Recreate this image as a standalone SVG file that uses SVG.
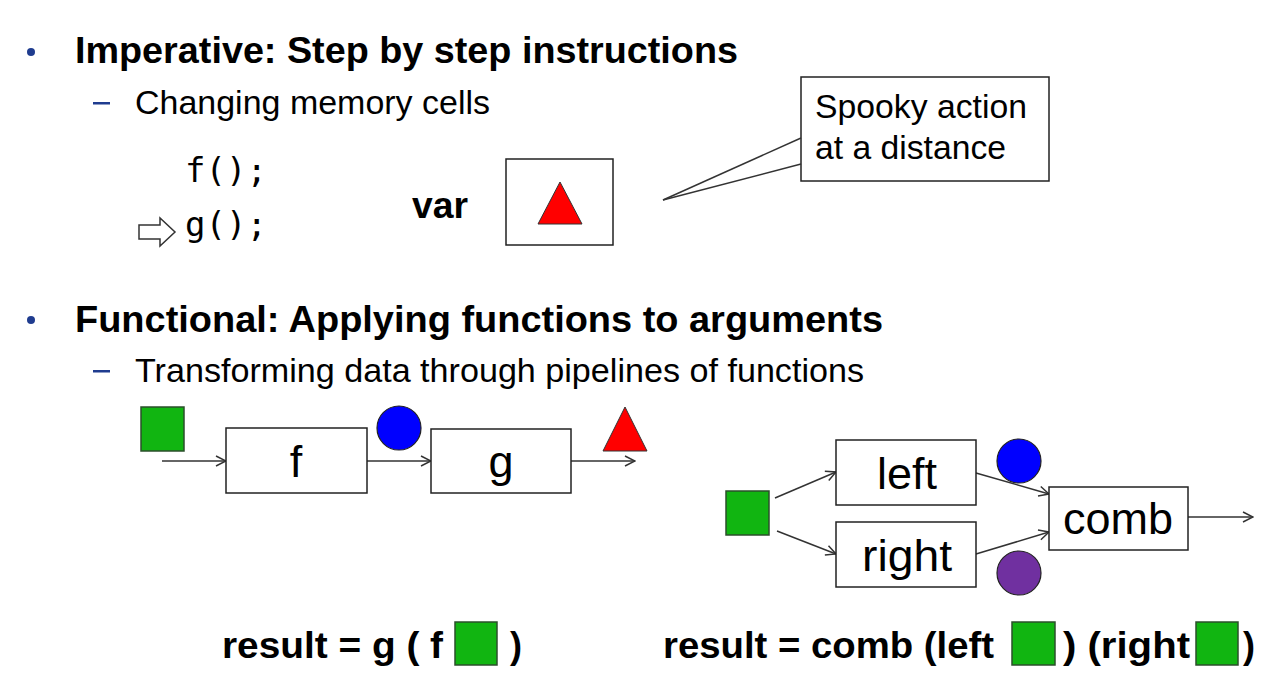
<svg xmlns="http://www.w3.org/2000/svg" width="1270" height="685" viewBox="0 0 1270 685">
<style>
  .h1 { font-family: "Liberation Sans", Arial, sans-serif; font-weight: bold; font-size: 36px; fill: #000; }
  .h2 { font-family: "Liberation Sans", Arial, sans-serif; font-size: 33px; fill: #000; }
  .code { font-family: "DejaVu Sans Mono", monospace; font-size: 34px; fill: #000; }
  .lbl { font-family: "Liberation Sans", Arial, sans-serif; font-size: 45px; fill: #000; text-anchor: middle; }
  .box { fill: #fff; stroke: #222; stroke-width: 1.5; }
  .sq { fill: #11b511; stroke: #2b4f2b; stroke-width: 1.5; }
  .conn { stroke: #333; stroke-width: 1.5; fill: none; marker-end: url(#arr); }
  .bul { fill: #1f3c8f; }
</style>
<defs>
  <marker id="arr" viewBox="0 0 12 12" refX="11" refY="6" markerWidth="12" markerHeight="12" markerUnits="userSpaceOnUse" orient="auto">
    <path d="M1,1 L11,6 L1,11" fill="none" stroke="#333" stroke-width="1.5"/>
  </marker>
</defs>
<rect width="1270" height="685" fill="#fff"/>

<g id="bullets">
  <circle class="bul" cx="31" cy="52" r="4"/>
  <rect class="bul" x="93" y="102" width="17" height="2.5"/>
  <circle class="bul" cx="31" cy="320" r="4"/>
  <rect class="bul" x="93" y="370" width="17" height="2.5"/>
</g>

<g id="headings">
  <text class="h1" x="75" y="63" textLength="663" lengthAdjust="spacingAndGlyphs">Imperative: Step by step instructions</text>
  <text class="h2" x="135" y="114" textLength="355" lengthAdjust="spacingAndGlyphs">Changing memory cells</text>
  <text class="h1" x="75" y="332" textLength="808" lengthAdjust="spacingAndGlyphs">Functional: Applying functions to arguments</text>
  <text class="h2" x="135" y="382" textLength="729" lengthAdjust="spacingAndGlyphs">Transforming data through pipelines of functions</text>
</g>

<g id="code">
  <text class="code" x="185" y="182">f();</text>
  <text class="code" x="185" y="236">g();</text>
  <polygon points="139,225 160,225 160,218 175,232 160,246 160,239 139,239" fill="#fff" stroke="#333" stroke-width="1.5"/>
</g>

<g id="var">
  <text class="h1" x="412" y="218" textLength="56" lengthAdjust="spacingAndGlyphs">var</text>
  <rect class="box" x="506" y="159" width="107" height="86"/>
  <polygon points="560,182 538,224 582,224" fill="#ff0000" stroke="#333" stroke-width="1"/>
</g>

<g id="callout">
  <rect class="box" x="801" y="77" width="248" height="104"/>
  <line x1="801" y1="138" x2="663" y2="200" stroke="#333" stroke-width="1.5"/>
  <line x1="801" y1="164" x2="663" y2="200" stroke="#333" stroke-width="1.5"/>
  <text class="h2" x="815" y="118" textLength="212" lengthAdjust="spacingAndGlyphs">Spooky action</text>
  <text class="h2" x="815" y="159" textLength="191" lengthAdjust="spacingAndGlyphs">at a distance</text>
</g>

<g id="connectors">
  <line class="conn" x1="162" y1="461" x2="226" y2="461"/>
  <line class="conn" x1="367" y1="461" x2="431" y2="461"/>
  <line class="conn" x1="571" y1="461" x2="635" y2="461"/>
  <line class="conn" x1="775" y1="498" x2="836" y2="472"/>
  <line class="conn" x1="777" y1="531" x2="836" y2="554"/>
  <line class="conn" x1="976" y1="473" x2="1049" y2="494"/>
  <line class="conn" x1="976" y1="554" x2="1049" y2="532"/>
  <line class="conn" x1="1188" y1="517" x2="1253" y2="517"/>
</g>

<g id="pipe-input"><rect class="sq" x="141" y="407" width="43" height="44"/></g>
<g id="node-f">
  <rect class="box" x="226" y="428" width="141" height="65"/>
  <text class="lbl" x="296" y="477">f</text>
</g>
<g id="pipe-mid"><circle cx="399" cy="428" r="22" fill="#0000ff" stroke="#222" stroke-width="1.2"/></g>
<g id="node-g">
  <rect class="box" x="431" y="429" width="140" height="64"/>
  <text class="lbl" x="501" y="477">g</text>
</g>
<g id="pipe-out"><polygon points="625,407 603,451 647,451" fill="#ff0000" stroke="#333" stroke-width="1"/></g>

<g id="fan-input"><rect class="sq" x="726" y="491" width="43" height="44"/></g>
<g id="node-left">
  <rect class="box" x="836" y="440" width="140" height="65"/>
  <text class="lbl" x="907" y="489" textLength="60" lengthAdjust="spacingAndGlyphs">left</text>
</g>
<g id="node-right">
  <rect class="box" x="836" y="522" width="140" height="65"/>
  <text class="lbl" x="907" y="571" textLength="90" lengthAdjust="spacingAndGlyphs">right</text>
</g>
<g id="node-comb">
  <rect class="box" x="1049" y="487" width="139" height="63"/>
  <text class="lbl" x="1118" y="534" textLength="110" lengthAdjust="spacingAndGlyphs">comb</text>
</g>
<g id="fan-blue"><circle cx="1019" cy="461" r="22" fill="#0000ff" stroke="#222" stroke-width="1.2"/></g>
<g id="fan-purple"><circle cx="1019" cy="573" r="22" fill="#7030a0" stroke="#222" stroke-width="1.2"/></g>

<g id="formulas">
  <text class="h1" x="222" y="658" textLength="221" lengthAdjust="spacingAndGlyphs">result = g ( f</text>
  <rect class="sq" x="455" y="622" width="42" height="43"/>
  <text class="h1" x="510" y="658">)</text>
  <text class="h1" x="663" y="658" textLength="331" lengthAdjust="spacingAndGlyphs">result = comb (left</text>
  <rect class="sq" x="1012" y="622" width="43" height="43"/>
  <text class="h1" x="1063" y="658" textLength="127" lengthAdjust="spacingAndGlyphs">) (right</text>
  <rect class="sq" x="1196" y="622" width="42" height="43"/>
  <text class="h1" x="1243" y="658">)</text>
</g>
</svg>
